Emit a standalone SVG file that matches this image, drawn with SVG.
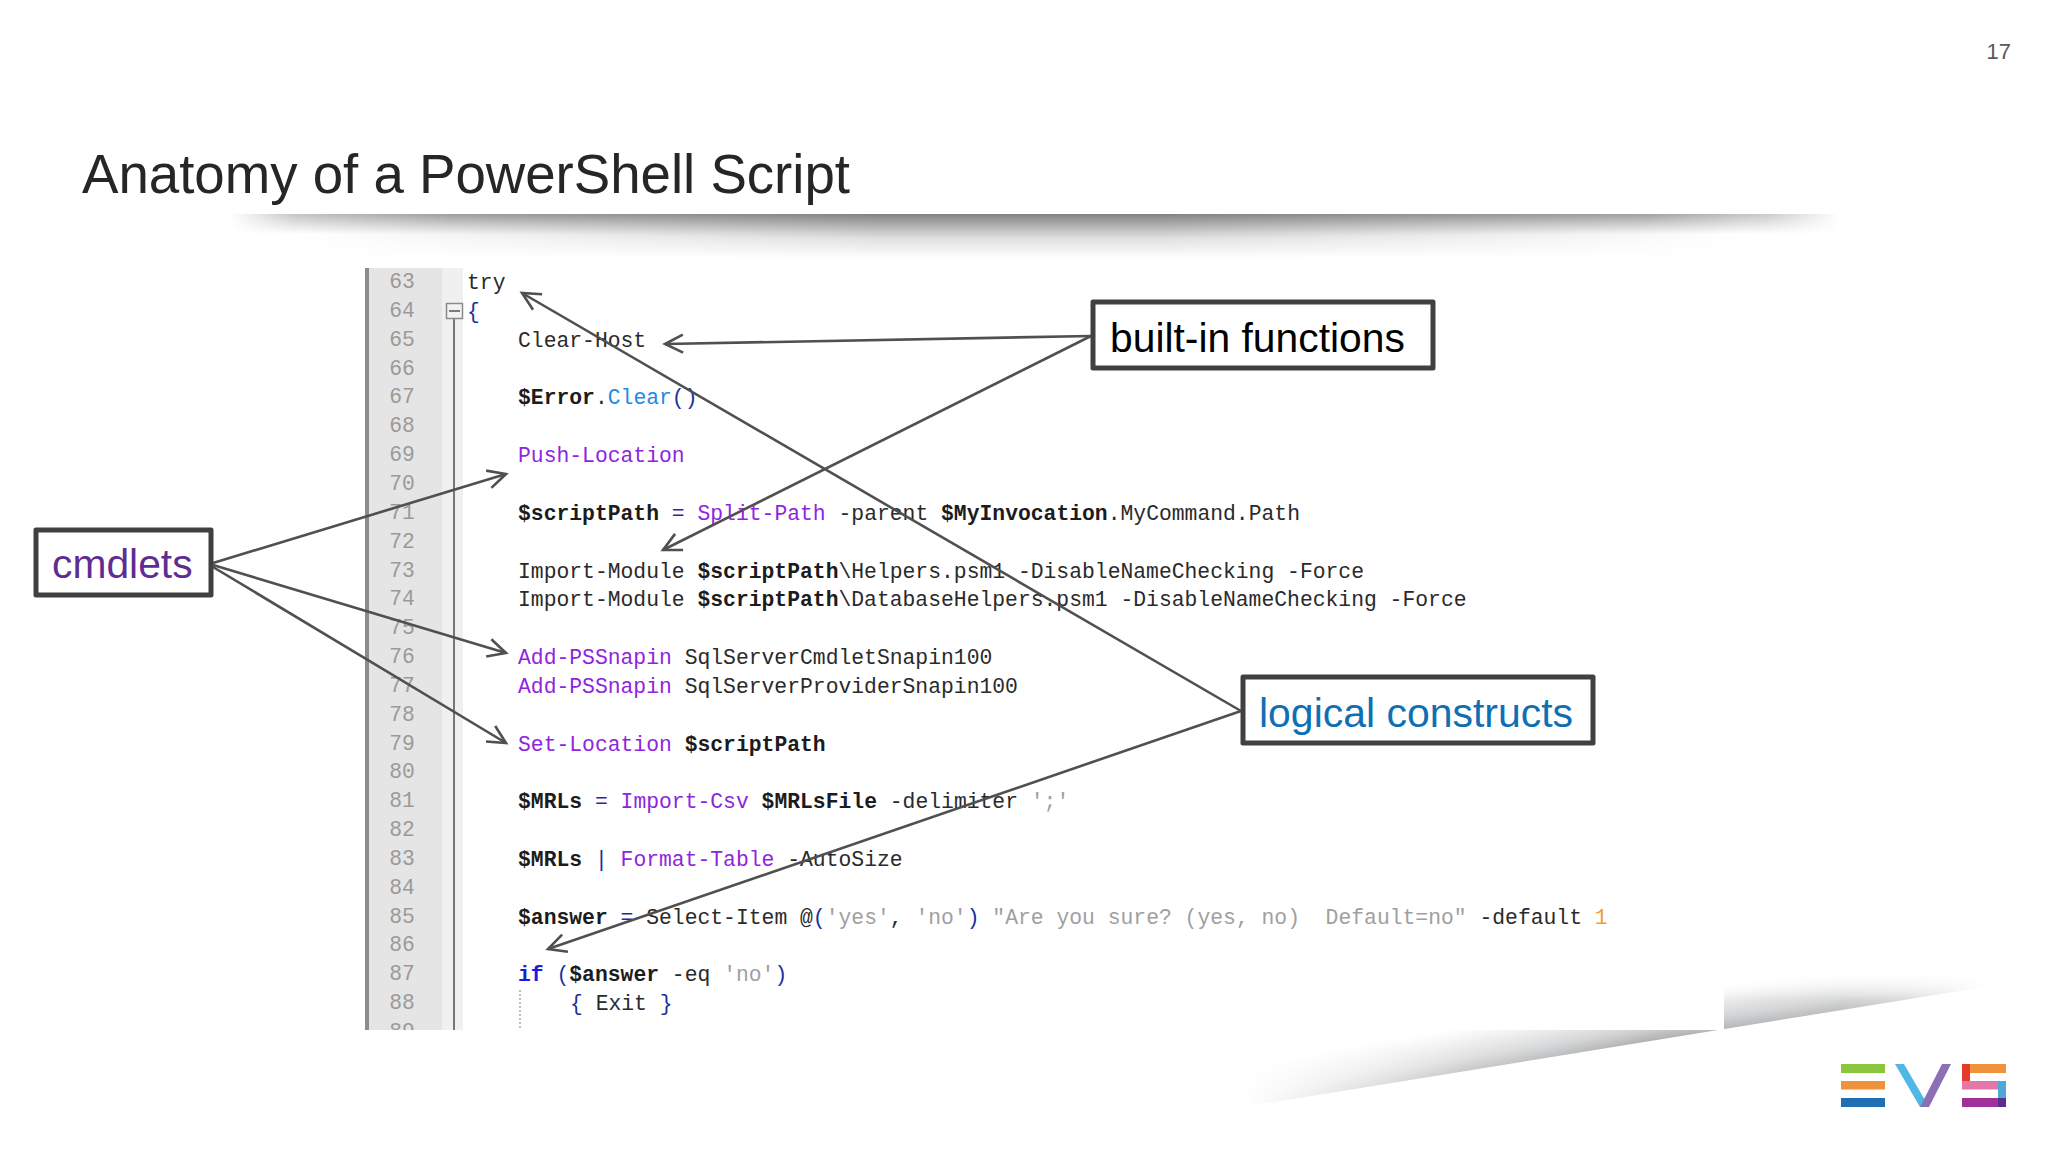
<svg xmlns="http://www.w3.org/2000/svg" width="2048" height="1153" viewBox="0 0 2048 1153">
<style>
text{font-family:"Liberation Sans",Arial,sans-serif}
.code text,.nums text{font-family:"Liberation Mono","Courier New",monospace;font-size:21.37px;white-space:pre}
.code text{fill:#2a2a2a}
.nums text{fill:#9a9a9a;text-anchor:middle}
.b{font-weight:700;fill:#1c1c1c}
.k{fill:#8f24e0}
.m{fill:#1e88e8}
.p{fill:#1a2f9a}
.s{fill:#a0a0a0}
.i{fill:#1a1ae0;font-weight:700}
.o{fill:#f0a030}
.box{fill:#fff;stroke:#404040;stroke-width:5;stroke-linejoin:round}
.lab{font-size:40.8px}
.conn line{stroke:#505050;stroke-width:2.6;fill:none;marker-end:url(#arrow)}
</style>
<defs>
<marker id="arrow" markerUnits="userSpaceOnUse" markerWidth="30" markerHeight="30" refX="21" refY="15" orient="auto">
<path d="M3 6L21 15L3 24" fill="none" stroke="#505050" stroke-width="2.6"/>
</marker>
<linearGradient id="barA" gradientUnits="userSpaceOnUse" x1="0" y1="214" x2="0" y2="234"><stop offset="0" stop-color="#a8a8a8"/><stop offset=".5" stop-color="#d4d4d4"/><stop offset="1" stop-color="#fff"/></linearGradient>
<linearGradient id="barB" gradientUnits="userSpaceOnUse" x1="0" y1="214" x2="0" y2="258"><stop offset="0" stop-color="#828282"/><stop offset=".25" stop-color="#aeaeae"/><stop offset=".55" stop-color="#e0e0e0"/><stop offset="1" stop-color="#fff"/></linearGradient>
<linearGradient id="barM" x1="0" y1="0" x2="1" y2="0"><stop offset="0" stop-color="#000"/><stop offset=".04" stop-color="#aaa"/><stop offset=".14" stop-color="#fff"/><stop offset=".88" stop-color="#fff"/><stop offset=".955" stop-color="#999"/><stop offset="1" stop-color="#000"/></linearGradient>
<linearGradient id="barN" x1="0" y1="0" x2="1" y2="0"><stop offset="0" stop-color="#000"/><stop offset=".4" stop-color="#fff"/><stop offset=".6" stop-color="#fff"/><stop offset="1" stop-color="#000"/></linearGradient>
<mask id="barMask" maskUnits="userSpaceOnUse" x="230" y="205" width="1610" height="60"><rect x="230" y="205" width="1610" height="60" fill="url(#barM)"/></mask>
<mask id="barMask2" maskUnits="userSpaceOnUse" x="300" y="205" width="1440" height="60"><rect x="300" y="205" width="1440" height="60" fill="url(#barN)"/></mask>
<linearGradient id="swG" gradientUnits="userSpaceOnUse" x1="1732" y1="1036" x2="1724" y2="986"><stop offset="0" stop-color="#9a9c9e"/><stop offset=".4" stop-color="#cfd0d1"/><stop offset="1" stop-color="#fff"/></linearGradient>
<linearGradient id="swM" gradientUnits="userSpaceOnUse" x1="1243" y1="0" x2="1990" y2="0"><stop offset="0" stop-color="#000"/><stop offset=".3" stop-color="#aaa"/><stop offset=".55" stop-color="#fff"/><stop offset=".8" stop-color="#ccc"/><stop offset="1" stop-color="#000"/></linearGradient>
<linearGradient id="swTop" x1="0" y1="0" x2="0" y2="1"><stop offset="0" stop-color="#fff"/><stop offset=".55" stop-color="#fff"/><stop offset="1" stop-color="#fff" stop-opacity="0"/></linearGradient>
<mask id="swMask" maskUnits="userSpaceOnUse" x="1230" y="900" width="770" height="220"><rect x="1230" y="900" width="770" height="220" fill="url(#swM)"/></mask>
<clipPath id="codeClip"><rect x="360" y="268" width="1370" height="762"/></clipPath>
</defs>
<rect width="2048" height="1153" fill="#fff"/>
<text x="2011" y="59" text-anchor="end" font-size="22" fill="#595959">17</text>
<text x="82" y="193" font-size="56" fill="#262626" textLength="768" lengthAdjust="spacingAndGlyphs">Anatomy of a PowerShell Script</text>
<rect x="230" y="214" width="1610" height="20" fill="url(#barA)" mask="url(#barMask)"/>
<rect x="300" y="214" width="1440" height="44" fill="url(#barB)" mask="url(#barMask2)"/>
<path d="M1243 1107L1984 987L1984 900L1243 990Z" fill="url(#swG)" mask="url(#swMask)"/>
<rect x="1724" y="940" width="280" height="60" fill="url(#swTop)"/>
<rect x="360" y="268" width="1364" height="762" fill="#fff"/>
<g clip-path="url(#codeClip)">
<rect x="368" y="268" width="74" height="762" fill="#e5e5e5"/>
<rect x="365" y="268" width="4" height="762" fill="#8c8c8c"/>
<rect x="442" y="268" width="21" height="762" fill="#f0f0f0"/>
<line x1="454" y1="319" x2="454" y2="1030" stroke="#777" stroke-width="2"/>
<rect x="446.500" y="303.500" width="16" height="15" fill="#f2f2f2" stroke="#8a8a8a" stroke-width="1.500"/>
<line x1="449" y1="311" x2="460" y2="311" stroke="#555" stroke-width="1.500"/>
<line x1="520" y1="990" x2="520" y2="1030" stroke="#aaa" stroke-width="1.500" stroke-dasharray="2 2"/>
<g class="nums">
<text x="402" y="288">63</text><text x="402" y="317">64</text><text x="402" y="346">65</text><text x="402" y="375">66</text><text x="402" y="403">67</text><text x="402" y="432">68</text><text x="402" y="461">69</text><text x="402" y="490">70</text><text x="402" y="519">71</text><text x="402" y="548">72</text><text x="402" y="577">73</text><text x="402" y="605">74</text><text x="402" y="634">75</text><text x="402" y="663">76</text><text x="402" y="692">77</text><text x="402" y="721">78</text><text x="402" y="750">79</text><text x="402" y="778">80</text><text x="402" y="807">81</text><text x="402" y="836">82</text><text x="402" y="865">83</text><text x="402" y="894">84</text><text x="402" y="923">85</text><text x="402" y="951">86</text><text x="402" y="980">87</text><text x="402" y="1009">88</text><text x="402" y="1038">89</text>
</g>
<g class="code">
<text x="467" y="288.500">try</text>
<text x="467" y="317.500"><tspan class="p">{</tspan></text>
<text x="518" y="346.500">Clear-Host</text>
<text x="518" y="403.500"><tspan class="b">$Error</tspan>.<tspan class="m">Clear</tspan><tspan class="p">()</tspan></text>
<text x="518" y="461.500"><tspan class="k">Push-Location</tspan></text>
<text x="518" y="519.500"><tspan class="b">$scriptPath</tspan> <tspan class="p">=</tspan> <tspan class="k">Split-Path</tspan> -parent <tspan class="b">$MyInvocation</tspan>.MyCommand.Path</text>
<text x="518" y="577.500">Import-Module <tspan class="b">$scriptPath</tspan>\Helpers.psm1 -DisableNameChecking -Force</text>
<text x="518" y="605.500">Import-Module <tspan class="b">$scriptPath</tspan>\DatabaseHelpers.psm1 -DisableNameChecking -Force</text>
<text x="518" y="663.500"><tspan class="k">Add-PSSnapin</tspan> SqlServerCmdletSnapin100</text>
<text x="518" y="692.500"><tspan class="k">Add-PSSnapin</tspan> SqlServerProviderSnapin100</text>
<text x="518" y="750.500"><tspan class="k">Set-Location</tspan> <tspan class="b">$scriptPath</tspan></text>
<text x="518" y="807.500"><tspan class="b">$MRLs</tspan> <tspan class="p">=</tspan> <tspan class="k">Import-Csv</tspan> <tspan class="b">$MRLsFile</tspan> -delimiter <tspan class="s">';'</tspan></text>
<text x="518" y="865.500"><tspan class="b">$MRLs</tspan> <tspan class="p">|</tspan> <tspan class="k">Format-Table</tspan> -AutoSize</text>
<text x="518" y="923.500"><tspan class="b">$answer</tspan> <tspan class="p">=</tspan> Select-Item @<tspan class="p">(</tspan><tspan class="s">'yes'</tspan>, <tspan class="s">'no'</tspan><tspan class="p">)</tspan> <tspan class="s">"Are you sure? (yes, no)  Default=no"</tspan> -default <tspan class="o">1</tspan></text>
<text x="518" y="980.500"><tspan class="i">if</tspan> <tspan class="p">(</tspan><tspan class="b">$answer</tspan> -eq <tspan class="s">'no'</tspan><tspan class="p">)</tspan></text>
<text x="570" y="1009.500"><tspan class="p">{</tspan> Exit <tspan class="p">}</tspan></text>
</g>
</g>
<g id="connectors" class="conn">
<line x1="213" y1="563" x2="506" y2="474"/>
<line x1="213" y1="565" x2="506" y2="653"/>
<line x1="213" y1="567" x2="506" y2="743"/>
<line x1="1091" y1="336" x2="665" y2="344"/>
<line x1="1091" y1="336" x2="663" y2="550"/>
<line x1="1241" y1="711" x2="522" y2="293"/>
<line x1="1241" y1="711" x2="548" y2="949"/>
</g>
<g id="cmdlets"><rect class="box" x="36" y="530" width="175" height="65"/><text class="lab" x="52" y="578" fill="#5f2d91">cmdlets</text></g>
<g id="built-in-functions"><rect class="box" x="1093" y="302" width="340" height="66"/><text class="lab" x="1110" y="352" fill="#000">built-in functions</text></g>
<g id="logical-constructs"><rect class="box" x="1243" y="677" width="350" height="66"/><text class="lab" x="1259" y="727" fill="#0f6fb5" textLength="314" lengthAdjust="spacingAndGlyphs">logical constructs</text></g>
<g id="logo">
<rect x="1841" y="1064" width="44" height="9" fill="#8cc63f"/>
<rect x="1841" y="1081" width="44" height="8.500" fill="#f0923c"/>
<rect x="1841" y="1098" width="44" height="9" fill="#1f6fb5"/>
<polygon points="1895,1064 1904,1064 1929,1107 1920,1107" fill="#4fb8e5"/>
<polygon points="1951,1064 1942,1064 1920,1107 1929,1107" fill="#8c70b5"/>
<rect x="1962" y="1064" width="44" height="9" fill="#f0923c"/>
<rect x="1962" y="1064" width="8" height="25" fill="#e63a2a"/>
<rect x="1962" y="1081" width="44" height="8.500" fill="#e477a8"/>
<rect x="1998" y="1081" width="8" height="26" fill="#4fa8d8"/>
<rect x="1962" y="1098" width="44" height="9" fill="#a0309a"/>
<rect x="1998" y="1098" width="8" height="9" fill="#5a2d91"/>
</g>
</svg>
